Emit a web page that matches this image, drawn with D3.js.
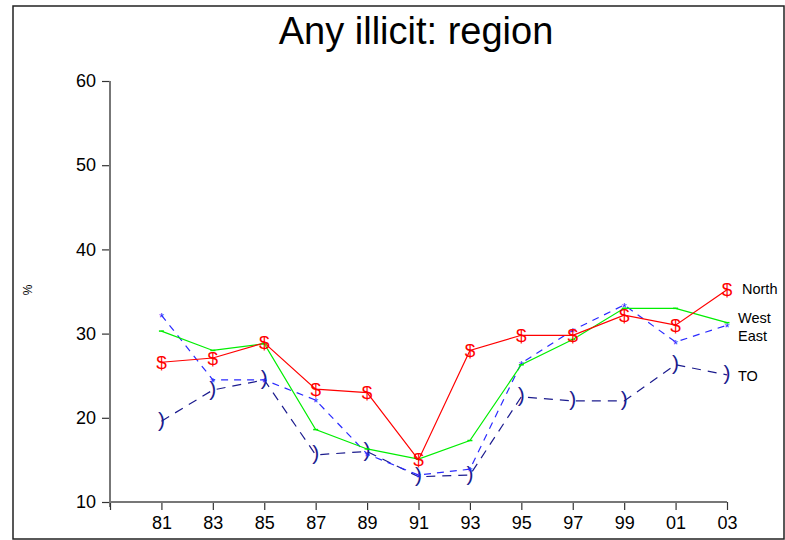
<!DOCTYPE html>
<html>
<head>
<meta charset="utf-8">
<script src="https://cdn.jsdelivr.net/npm/d3@7"></script>
<style>
  body { margin: 0; background: #fff; }
  svg { display: block; font-family: "Liberation Sans", Arial, sans-serif; }
</style>
</head>
<body>
<svg id="chart" width="785" height="540"></svg>
<script>
// ---- data ----
const years = ["81", "83", "85", "87", "89", "91", "93", "95", "97", "99", "01", "03"];
const north = [26.6, 27.1, 28.9, 23.4, 23.0, 15.0, 28.0, 29.8, 29.8, 32.2, 31.0, 35.2];
const west  = [30.3, 28.0, 28.8, 18.6, 16.3, 15.1, 17.3, 26.3, 29.3, 33.0, 33.0, 31.3];
const east  = [32.2, 24.5, 24.5, 22.1, 15.7, 13.2, 13.9, 26.5, 30.4, 33.4, 29.0, 31.0];
const to    = [19.6, 23.3, 24.5, 15.6, 16.0, 13.0, 13.2, 22.5, 22.0, 22.0, 26.3, 25.1];
const yTicks = [10, 20, 30, 40, 50, 60];
const seriesNames = ["North", "West", "East", "TO"];

const svg = d3.select("#chart");

// frame
svg.append("rect").attr("x", 13).attr("y", 6).attr("width", 771).attr("height", 533)
  .attr("fill", "none").attr("stroke", "#222").attr("stroke-width", 1.5);

// scales (index 0 = unlabelled origin tick, 1..12 = years)
const x = d3.scaleLinear().domain([0, years.length]).range([110, 727]);
const y = d3.scaleLinear().domain([10, 60]).range([502, 81]);

// title
svg.append("text").attr("x", 416).attr("y", 44).attr("text-anchor", "middle")
  .attr("font-size", 38).attr("fill", "#000").text("Any illicit: region");

// y axis
const yAxis = svg.append("g").attr("transform", "translate(110,0)")
  .call(d3.axisLeft(y).tickValues(yTicks).tickSize(8).tickPadding(6).tickSizeOuter(0));
yAxis.select(".domain").remove();
yAxis.append("line").attr("x1", 0).attr("x2", 0).attr("y1", y(60)).attr("y2", 507)
  .attr("stroke", "#777").attr("stroke-width", 2);
yAxis.selectAll(".tick line").attr("stroke", "#333").attr("stroke-width", 1.2);
yAxis.selectAll(".tick text").attr("font-size", 18).attr("fill", "#000")
  .attr("font-family", "Liberation Sans, Arial, sans-serif");

// x axis
const xIdx = d3.range(0, years.length + 1);
const xAxis = svg.append("g").attr("transform", "translate(0,502)")
  .call(d3.axisBottom(x).tickValues(xIdx).tickSize(8).tickPadding(6).tickSizeOuter(0)
    .tickFormat(i => i === 0 ? "" : years[i - 1]));
xAxis.select(".domain").remove();
xAxis.append("line").attr("x1", x(0)).attr("x2", x(years.length)).attr("y1", 0).attr("y2", 0)
  .attr("stroke", "#777").attr("stroke-width", 2);
xAxis.selectAll(".tick line").attr("stroke", "#333").attr("stroke-width", 1.2);
xAxis.selectAll(".tick text").attr("font-size", 18).attr("fill", "#000")
  .attr("font-family", "Liberation Sans, Arial, sans-serif");

// y label
svg.append("text").attr("transform", "translate(32,290) rotate(-90)")
  .attr("text-anchor", "middle").attr("font-size", 12).attr("fill", "#000").text("%");

const line = d3.line().x((d, i) => x(i + 1)).y(d => y(d));

const series = [
  { name: seriesNames[0], data: north, color: "#ff0000", dash: null, sym: "$", fs: 19, dy: 6.5, lx: 742, ly: 289 },
  { name: seriesNames[1], data: west, color: "#00ee00", dash: null, sym: "-", fs: 0, dy: 0, lx: 738, ly: 318 },
  { name: seriesNames[2], data: east, color: "#2a2aff", dash: "7,6", sym: "*", fs: 13, dy: 7, lx: 738, ly: 336 },
  { name: seriesNames[3], data: to, color: "#1c1c8e", dash: "9,7", sym: ")", fs: 21, dy: 5.5, lx: 738, ly: 376 }
];

// draw lines in order: TO, East, West, North (North on top)
[3, 2, 1, 0].forEach(k => {
  const s = series[k];
  svg.append("path").datum(s.data).attr("d", line).attr("fill", "none")
    .attr("stroke", s.color).attr("stroke-width", 1.2)
    .attr("stroke-dasharray", s.dash);
});

[3, 2, 1, 0].forEach(k => {
  const s = series[k];
  const g = svg.append("g");
  if (s.sym === "-") {
    g.selectAll("line").data(s.data).join("line")
      .attr("x1", (d, i) => x(i + 1) - 2.5).attr("x2", (d, i) => x(i + 1) + 2.5)
      .attr("y1", d => y(d)).attr("y2", d => y(d))
      .attr("stroke", s.color).attr("stroke-width", 1.5);
  } else {
    g.selectAll("text").data(s.data).join("text")
      .attr("x", (d, i) => x(i + 1)).attr("y", d => y(d) + s.dy)
      .attr("text-anchor", "middle").attr("font-size", s.fs)
      .attr("fill", s.color).text(s.sym);
  }
  svg.append("text").attr("x", s.lx).attr("y", s.ly).attr("dy", "0.35em")
    .attr("font-size", 14.5).attr("fill", "#000").text(s.name);
});
</script>
</body>
</html>
